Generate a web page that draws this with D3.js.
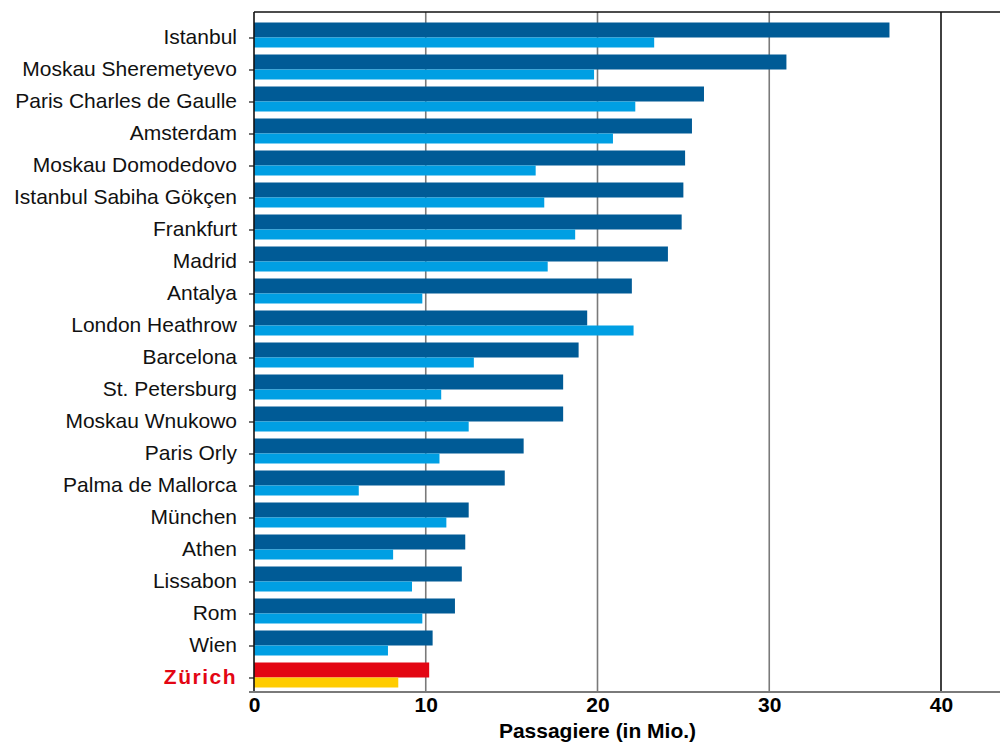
<!DOCTYPE html>
<html>
<head>
<meta charset="utf-8">
<script src="https://cdn.jsdelivr.net/npm/d3@7"></script>
<style>
  body { margin: 0; background: #fff; }
  svg { display: block; }
  .cat text { font-family: "Liberation Sans", Arial, sans-serif; font-size: 21px; fill: #111; }
  .num text { font-family: "Liberation Sans Narrow", "Liberation Sans", sans-serif; font-size: 21px; font-weight: bold; fill: #000; }
</style>
</head>
<body>
<svg width="1000" height="742"></svg>
<script>
// airports, top to bottom
const airports = [
    "Istanbul", "Moskau Sheremetyevo", "Paris Charles de Gaulle", "Amsterdam",
    "Moskau Domodedovo", "Istanbul Sabiha Gökçen", "Frankfurt", "Madrid",
    "Antalya", "London Heathrow", "Barcelona", "St. Petersburg",
    "Moskau Wnukowo", "Paris Orly", "Palma de Mallorca", "München",
    "Athen", "Lissabon", "Rom", "Wien", "Zürich"
];
// passengers in millions, dark bar (upper) and light bar (lower)
const paxUpper = [37.0, 31.0, 26.2, 25.5, 25.1, 25.0, 24.9, 24.1, 22.0, 19.4, 18.9,
                  18.0, 18.0, 15.7, 14.6, 12.5, 12.3, 12.1, 11.7, 10.4, 10.2];
const paxLower = [23.3, 19.8, 22.2, 20.9, 16.4, 16.9, 18.7, 17.1, 9.8, 22.1, 12.8,
                  10.9, 12.5, 10.8, 6.1, 11.2, 8.1, 9.2, 9.8, 7.8, 8.4];
const xTicks = [0, 10, 20, 30, 40];

const svg = d3.select("svg");
const g = svg.append("g");

const x = d3.scaleLinear().domain([0, 40]).range([254, 941]);
const y = d3.scalePoint().domain(airports).range([37.5, 677.5]);
const plotTop = 12, plotBottom = 692;

// grid lines
g.append("g")
    .selectAll("line")
    .data(xTicks.filter(d => d > 0))
    .enter().append("line")
    .attr("x1", d => x(d)).attr("x2", d => x(d))
    .attr("y1", plotTop).attr("y2", plotBottom)
    .attr("stroke", d => d === 40 ? "#111" : "#7a7a7a")
    .attr("stroke-width", 1.6);

// top border
g.append("line")
    .attr("x1", x(0)).attr("x2", 1000)
    .attr("y1", plotTop).attr("y2", plotTop)
    .attr("stroke", "#111").attr("stroke-width", 1.6);

const isZh = d => d === "Zürich";

// bars
g.append("g")
    .selectAll("rect")
    .data(airports)
    .enter().append("rect")
    .attr("x", x(0))
    .attr("y", d => y(d) - 15)
    .attr("width", (d, i) => x(paxUpper[i]) - x(0))
    .attr("height", 15)
    .attr("fill", d => isZh(d) ? "#e30613" : "#005b96");

g.append("g")
    .selectAll("rect")
    .data(airports)
    .enter().append("rect")
    .attr("x", x(0))
    .attr("y", d => y(d))
    .attr("width", (d, i) => x(paxLower[i]) - x(0))
    .attr("height", 10)
    .attr("fill", d => isZh(d) ? "#ffcc00" : "#009fe3");

// left axis
const yAxis = g.append("g")
    .attr("class", "cat")
    .attr("transform", `translate(${x(0)},0)`)
    .call(d3.axisLeft(y).tickSize(5).tickPadding(12));
yAxis.select(".domain").remove();
yAxis.selectAll(".tick line").attr("stroke", "#111").attr("stroke-width", 1.2);
yAxis.selectAll(".tick text")
    .attr("dy", "0.3em")
    .style("fill", d => isZh(d) ? "#e30613" : "#111")
    .style("font-weight", d => isZh(d) ? "bold" : "normal")
    .style("letter-spacing", d => isZh(d) ? "1.5px" : null);

g.append("line")
    .attr("x1", x(0)).attr("x2", x(0))
    .attr("y1", plotTop).attr("y2", plotBottom)
    .attr("stroke", "#111").attr("stroke-width", 1.6);

// bottom axis
const xAxis = g.append("g")
    .attr("class", "num")
    .attr("transform", `translate(0,${plotBottom})`)
    .call(d3.axisBottom(x).tickValues(xTicks).tickSize(0).tickPadding(5).tickFormat(d3.format("d")));
xAxis.select(".domain").remove();
xAxis.selectAll(".tick text").attr("dy", "0.71em");

g.append("line")
    .attr("x1", 249).attr("x2", 1000)
    .attr("y1", plotBottom).attr("y2", plotBottom)
    .attr("stroke", "#7a7a7a").attr("stroke-width", 2.2);

g.append("text")
    .attr("x", x(20))
    .attr("y", 738)
    .attr("text-anchor", "middle")
    .style("font-family", "'Liberation Sans Narrow', 'Liberation Sans', sans-serif")
    .style("font-size", "21px")
    .style("font-weight", "bold")
    .text("Passagiere (in Mio.)");
</script>
</body>
</html>
